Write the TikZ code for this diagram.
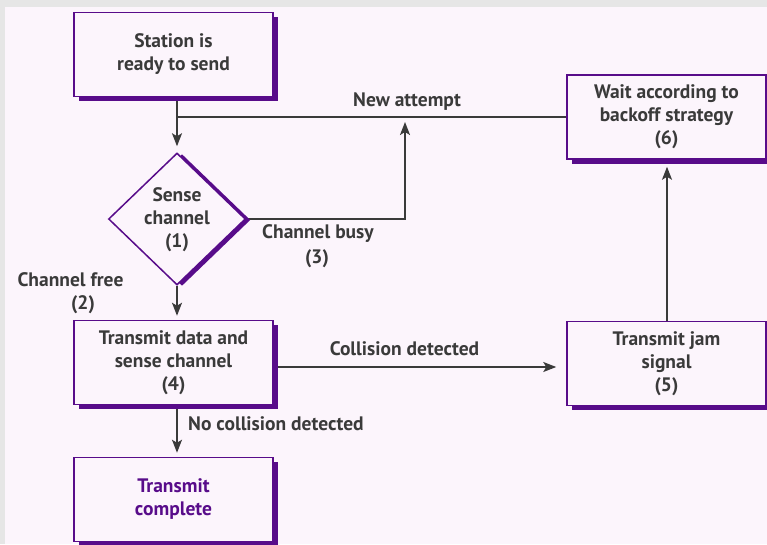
\documentclass[tikz,border=0pt]{standalone}
\usepackage{fontspec}
\setmainfont{PT Sans}
\usetikzlibrary{arrows.meta,shapes.geometric,shadows}

\definecolor{paperbg}{RGB}{252,245,252}
\definecolor{bandgray}{RGB}{230,230,230}
\definecolor{frame}{RGB}{88,12,138}
\definecolor{ink}{RGB}{58,58,58}

\pgfdeclarelayer{paper}
\pgfdeclarelayer{wires}
\pgfsetlayers{paper,wires,main}

\tikzset{
  txt/.style={text=ink, font=\bfseries\fontsize{19.5}{23}\selectfont, align=center, inner sep=0pt},
  stepbox/.style={txt, rectangle, draw=frame, line width=1.5pt, fill=paperbg,
    minimum width=199pt, minimum height=84pt,
    general shadow={fill=frame, shadow xshift=5pt, shadow yshift=-4.5pt}},
  decision/.style={diamond, draw=frame, line width=1.5pt, fill=paperbg,
    minimum width=137pt, minimum height=132pt, inner sep=0pt,
    general shadow={fill=frame, shadow xshift=5pt, shadow yshift=-1pt}},
  lbl/.style={txt},
  wire/.style={draw=ink, line width=1.5pt},
  conn/.style={wire, -{Stealth[length=13pt,width=10pt,inset=3pt]}},
}

\begin{document}
\begin{tikzpicture}[x=1pt,y=-1pt]
\useasboundingbox (0,0) rectangle (767,544);

\begin{pgfonlayer}{paper}
  \fill[paperbg] (0,0) rectangle (767,544);
  \fill[bandgray] (0,0) rectangle (767,7);
  \fill[bandgray] (0,0) rectangle (5,544);
\end{pgfonlayer}

% process steps
\node[stepbox] (start) at (173.5,54.5) {Station is\\ready to send};
\node[decision] (sense) at (177,219) {};
\node[txt] (sensetxt) at (177,220) {Sense\\channel\\(1)};
\node[stepbox] (tx) at (173.5,362.5) {Transmit data and\\sense channel\\(4)};
\node[stepbox, text=frame] (done) at (173.5,499.5) {Transmit\\complete};
\node[stepbox] (jam) at (666.5,363.5) {Transmit jam\\signal\\(5)};
\node[stepbox] (wait) at (666.5,117) {Wait according to\\backoff strategy\\(6)};

% helper points for the connectors
\coordinate (busytop) at (405,122);
\coordinate (collrow) at (0,367);
\coordinate (upcol) at (667,0);

\begin{pgfonlayer}{wires}
  \draw[conn, shorten >=6pt] (start.south -| sense.north) -- (sense.north);
  \draw[wire] (wait.west) -- (wait.west -| sense.north);
  \draw[conn] (sense.east) -| (busytop);
  \draw[conn, shorten >=4pt] (sense.south) -- (sense.south |- tx.north);
  \draw[conn, shorten >=10pt] (tx.east |- collrow) -- (jam.west |- collrow);
  \draw[conn, shorten >=4pt] (tx.south -| sense.south) -- (done.north -| sense.south);
  \draw[conn, shorten >=7pt] (jam.north -| upcol) -- (wait.south -| upcol);
\end{pgfonlayer}

% connector labels
\node[lbl, anchor=base] (newatt) at (407,106) {New attempt};
\node[lbl, anchor=base] (busy) at (318,238) {Channel busy};
\node[lbl, anchor=base] (busyno) at (317,263) {(3)};
\node[lbl, anchor=base] (free) at (70.5,286) {Channel free};
\node[lbl, anchor=base] (freeno) at (83,309) {(2)};
\node[lbl, anchor=base] (coll) at (404.5,355) {Collision detected};
\node[lbl, anchor=base west] (nocoll) at (188,430) {No collision detected};
\end{tikzpicture}
\end{document}
